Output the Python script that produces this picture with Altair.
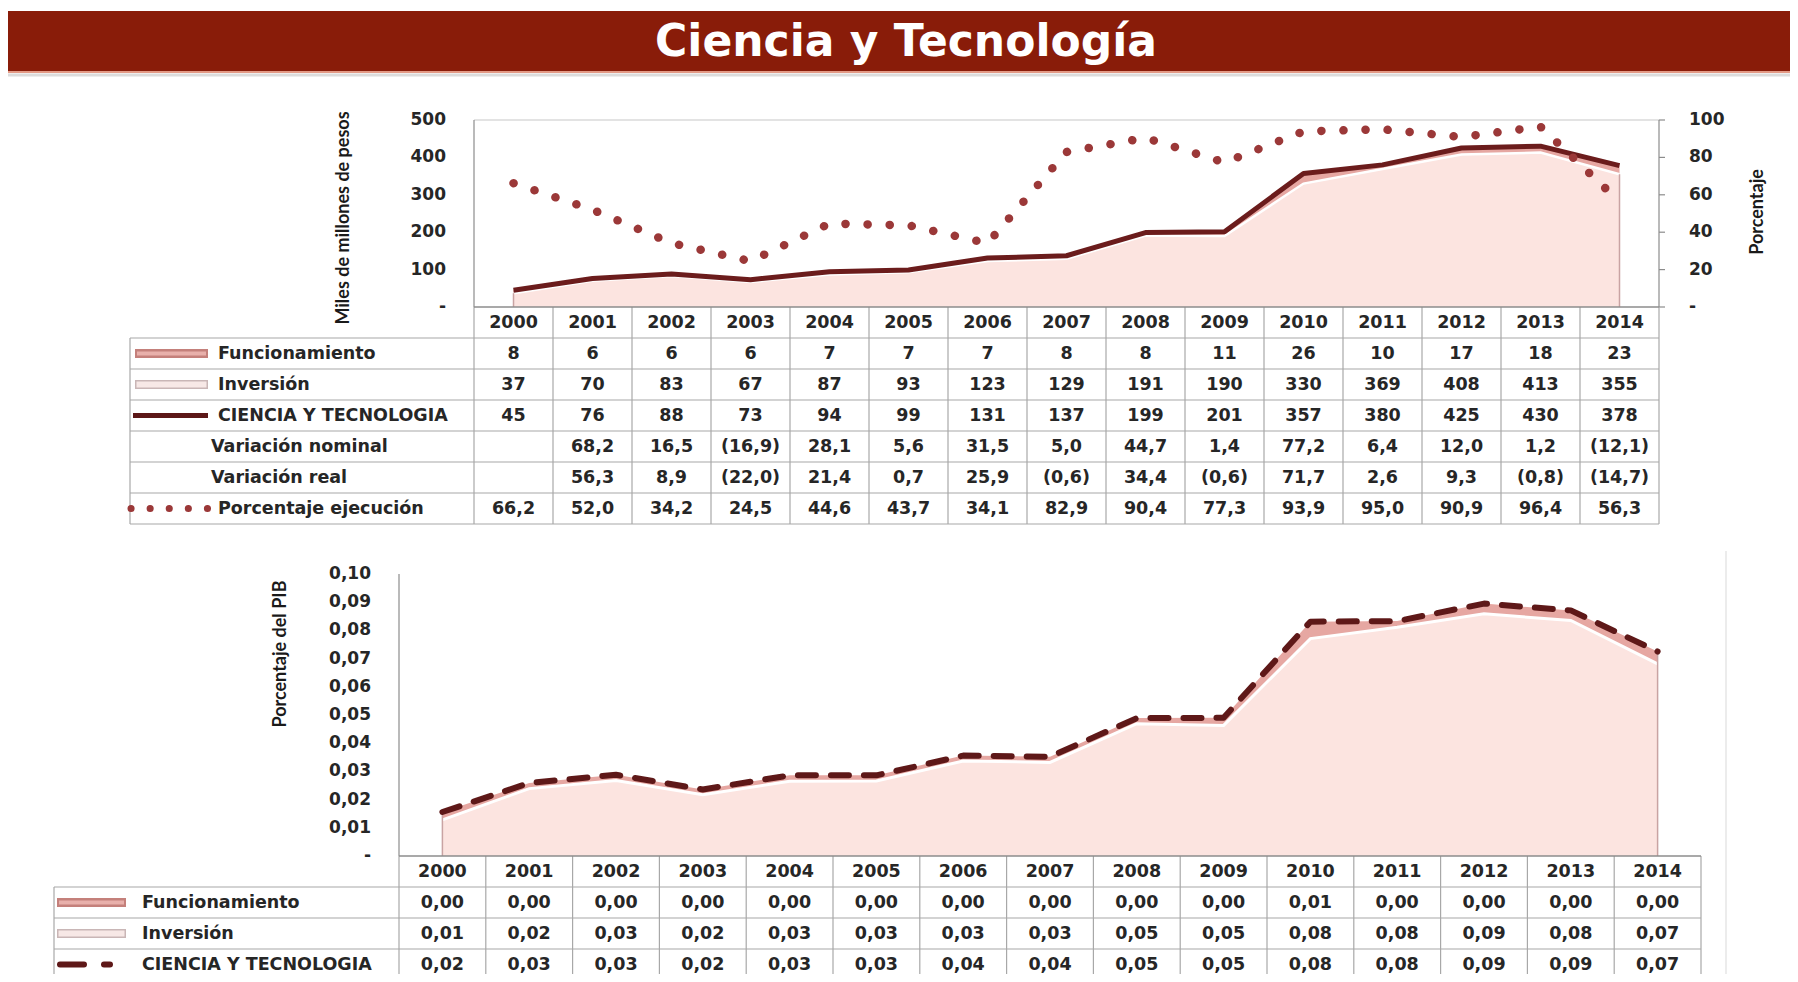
import altair as alt
import pandas as pd

# ---------------- data ----------------
years = [2000, 2001, 2002, 2003, 2004, 2005, 2006, 2007, 2008, 2009, 2010, 2011, 2012, 2013, 2014]

funcionamiento = [8, 6, 6, 6, 7, 7, 7, 8, 8, 11, 26, 10, 17, 18, 23]
inversion = [37, 70, 83, 67, 87, 93, 123, 129, 191, 190, 330, 369, 408, 413, 355]
ciencia_tecnologia = [45, 76, 88, 73, 94, 99, 131, 137, 199, 201, 357, 380, 425, 430, 378]
variacion_nominal = [None, 68.2, 16.5, -16.9, 28.1, 5.6, 31.5, 5.0, 44.7, 1.4, 77.2, 6.4, 12.0, 1.2, -12.1]
variacion_real = [None, 56.3, 8.9, -22.0, 21.4, 0.7, 25.9, -0.6, 34.4, -0.6, 71.7, 2.6, 9.3, -0.8, -14.7]
porcentaje_ejecucion = [66.2, 52.0, 34.2, 24.5, 44.6, 43.7, 34.1, 82.9, 90.4, 77.3, 93.9, 95.0, 90.9, 96.4, 56.3]

# porcentaje del PIB (curves)
pib_funcionamiento = [0.0028, 0.0020, 0.0020, 0.0019, 0.0021, 0.0020, 0.0019, 0.0020, 0.0020, 0.0027, 0.0060, 0.0022, 0.0036, 0.0036, 0.0044]
pib_inversion = [0.0128, 0.0239, 0.0268, 0.0217, 0.0265, 0.0266, 0.0337, 0.0332, 0.0469, 0.0463, 0.0771, 0.0811, 0.0859, 0.0835, 0.0681]
pib_total = [0.0156, 0.0259, 0.0288, 0.0236, 0.0286, 0.0286, 0.0356, 0.0352, 0.0489, 0.0490, 0.0831, 0.0833, 0.0895, 0.0871, 0.0725]

# porcentaje del PIB (table values as printed)
pib_func_tabla = ["0,00", "0,00", "0,00", "0,00", "0,00", "0,00", "0,00", "0,00", "0,00", "0,00", "0,01", "0,00", "0,00", "0,00", "0,00"]
pib_inv_tabla = ["0,01", "0,02", "0,03", "0,02", "0,03", "0,03", "0,03", "0,03", "0,05", "0,05", "0,08", "0,08", "0,09", "0,08", "0,07"]
pib_total_tabla = ["0,02", "0,03", "0,03", "0,02", "0,03", "0,03", "0,04", "0,04", "0,05", "0,05", "0,08", "0,08", "0,09", "0,09", "0,07"]

ticks_left = [0, 100, 200, 300, 400, 500]
ticks_left_lab = ["-", "100", "200", "300", "400", "500"]
ticks_right = [0, 20, 40, 60, 80, 100]
ticks_right_lab = ["-", "20", "40", "60", "80", "100"]
ticks_pib = [0, 0.01, 0.02, 0.03, 0.04, 0.05, 0.06, 0.07, 0.08, 0.09, 0.10]
ticks_pib_lab = ["-", "0,01", "0,02", "0,03", "0,04", "0,05", "0,06", "0,07", "0,08", "0,09", "0,10"]

titulo = "Ciencia y Tecnología"
filas_top = ["Funcionamiento", "Inversión", "CIENCIA Y TECNOLOGIA", "Variación nominal", "Variación real", "Porcentaje ejecución"]
filas_bot = ["Funcionamiento", "Inversión", "CIENCIA Y TECNOLOGIA"]

# ---------------- layout ----------------
OFF = 8
W, H = 1782, 966


def P(v):
    return v - OFF


FONT = "DejaVu Sans"
TFONT = "Lato"
TXT = "#262626"
GRID = "#A8A8A8"
AXIS = "#8C8C8C"
ROWH = 31
FS_CELL = 17.5
FS_LAB = 17.5
FS_TICK = 17

TX0, TX1 = P(474), P(1659)
TY_TOP, TY_ZERO = P(120), P(307)
TROWS = 7
TT_BOT = TY_ZERO + TROWS * ROWH
TLAB_X0 = P(130)

BX0, BX1 = P(399), P(1701)
BY_TOP, BY_ZERO = P(574), P(856)
BROWS = 4
BT_BOT = BY_ZERO + BROWS * ROWH
BLAB_X0 = P(54)


def sc(dom, rng):
    return alt.Scale(domain=dom, range=rng, nice=False, zero=False)


x_top = sc([1999.5, 2014.5], [TX0, TX1])
y_top = sc([0, 500], [TY_ZERO, TY_TOP])
y_top_r = sc([0, 100], [TY_ZERO, TY_TOP])
row_top = sc([0, TROWS], [TY_ZERO, TT_BOT])
x_bot = sc([1999.5, 2014.5], [BX0, BX1])
y_bot = sc([0, 0.10], [BY_ZERO, BY_TOP])
row_bot = sc([0, BROWS], [BY_ZERO, BT_BOT])


def X(f, s):
    return alt.X(f, type="quantitative", scale=s, axis=None)


def Y(f, s):
    return alt.Y(f, type="quantitative", scale=s, axis=None)


def fmt1(v):
    if v is None:
        return ""
    s = f"{abs(v):.1f}".replace(".", ",")
    return f"({s})" if v < 0 else s


one = pd.DataFrame({"t": [titulo]})
L = []

# ---------------- banner ----------------
L.append(alt.Chart(one).mark_rect(color="#891C09").encode(
    x=alt.value(0), x2=alt.value(W), y=alt.value(P(11)), y2=alt.value(P(71))))
L.append(alt.Chart(one).mark_rule(color="#E39A86", strokeWidth=2).encode(
    x=alt.value(0), x2=alt.value(W), y=alt.value(P(72))))
L.append(alt.Chart(one).mark_rule(color="#DCDCDC", strokeWidth=3).encode(
    x=alt.value(0), x2=alt.value(W), y=alt.value(P(75))))
L.append(alt.Chart(one).mark_text(font="DejaVu Sans", fontSize=44, fontWeight="bold", color="white",
                                  align="center", baseline="middle").encode(
    x=alt.value(P(906)), y=alt.value(P(43)), text="t:N"))

# ---------------- top chart ----------------
df_top = pd.DataFrame({"year": years, "func": funcionamiento, "inv": inversion,
                       "total": ciencia_tecnologia, "pct": porcentaje_ejecucion, "zero": 0})
xt = X("year", x_top)
L.append(alt.Chart(df_top).mark_area(color="#FCE4E0").encode(x=xt, y=Y("inv", y_top), y2=alt.Y2("zero")))
L.append(alt.Chart(df_top).mark_area(color="#E6A7A2").encode(x=xt, y=Y("total", y_top), y2=alt.Y2("inv")))
L.append(alt.Chart(df_top).mark_line(color="white", strokeWidth=2.5).encode(x=xt, y=Y("inv", y_top)))
L.append(alt.Chart(df_top[df_top["year"].isin([years[0], years[-1]])]).mark_rule(color="#C9A3A3", strokeWidth=1.5).encode(
    x=xt, y=Y("zero", y_top), y2=alt.Y2("inv")))

# axes frame
frame_top = pd.DataFrame({"x0": [1999.5], "x1": [2014.5], "y0": [0], "y1": [500]})
L.append(alt.Chart(frame_top).mark_rule(color="#C8C8C8", strokeWidth=1.2).encode(
    x=X("x0", x_top), x2=alt.X2("x1"), y=Y("y1", y_top)))
L.append(alt.Chart(frame_top).mark_rule(color=AXIS, strokeWidth=1.2).encode(
    x=X("x0", x_top), y=Y("y0", y_top), y2=alt.Y2("y1")))
L.append(alt.Chart(frame_top).mark_rule(color=AXIS, strokeWidth=1.2).encode(
    x=X("x1", x_top), y=Y("y0", y_top), y2=alt.Y2("y1")))

df_tl = pd.DataFrame({"v": ticks_left, "lab": ticks_left_lab})
df_tr = pd.DataFrame({"v": ticks_right, "lab": ticks_right_lab})
L.append(alt.Chart(df_tr).mark_rule(color=AXIS, strokeWidth=1.2).encode(
    x=alt.value(TX1), x2=alt.value(TX1 + 6), y=Y("v", y_top_r)))
L.append(alt.Chart(df_tl).mark_text(font=FONT, fontSize=FS_TICK, fontWeight="bold", color=TXT,
                                    align="right", baseline="middle").encode(
    x=alt.value(P(446)), y=Y("v", y_top), text="lab:N"))
L.append(alt.Chart(df_tr).mark_text(font=FONT, fontSize=FS_TICK, fontWeight="bold", color=TXT,
                                    align="left", baseline="middle").encode(
    x=alt.value(P(1689)), y=Y("v", y_top_r), text="lab:N"))
L.append(alt.Chart(pd.DataFrame({"t": ["Miles de millones de pesos"]})).mark_text(
    font=TFONT, fontSize=18, fontWeight="bold", color="#1A1A1A", angle=270,
    align="center", baseline="middle").encode(x=alt.value(P(344)), y=alt.value(P(218)), text="t:N"))
L.append(alt.Chart(pd.DataFrame({"t": ["Porcentaje"]})).mark_text(
    font=TFONT, fontSize=18, fontWeight="bold", color="#1A1A1A", angle=270,
    align="center", baseline="middle").encode(x=alt.value(P(1758)), y=alt.value(P(212)), text="t:N"))

# series lines
L.append(alt.Chart(df_top).mark_line(color="#6B1C1C", strokeWidth=5, strokeJoin="round").encode(
    x=xt, y=Y("total", y_top)))
L.append(alt.Chart(df_top).mark_line(color="#9B3838", strokeWidth=8.5, strokeDash=[0.1, 22],
                                     strokeCap="round").encode(x=xt, y=Y("pct", y_top_r)))

# ---------------- top table ----------------
df_vl = pd.DataFrame({"xv": [y - 0.5 for y in years] + [years[-1] + 0.5], "r0": 0, "r1": TROWS})
L.append(alt.Chart(df_vl).mark_rule(color=GRID, strokeWidth=1.2).encode(
    x=X("xv", x_top), y=Y("r0", row_top), y2=alt.Y2("r1")))
L.append(alt.Chart(pd.DataFrame({"r": list(range(1, TROWS + 1))})).mark_rule(color=GRID, strokeWidth=1.2).encode(
    x=alt.value(TLAB_X0), x2=alt.value(TX1), y=Y("r", row_top)))
L.append(alt.Chart(pd.DataFrame({"r0": [1], "r1": [TROWS]})).mark_rule(color=GRID, strokeWidth=1.2).encode(
    x=alt.value(TLAB_X0), y=Y("r0", row_top), y2=alt.Y2("r1")))
L.append(alt.Chart(frame_top).mark_rule(color=AXIS, strokeWidth=1.4).encode(
    x=X("x0", x_top), x2=alt.X2("x1"), y=Y("y0", y_top)))

cells = [{"year": y, "rc": 0.5, "txt": str(y)} for y in years]
rows_vals = [
    [str(v) for v in funcionamiento],
    [str(v) for v in inversion],
    [str(v) for v in ciencia_tecnologia],
    [fmt1(v) for v in variacion_nominal],
    [fmt1(v) for v in variacion_real],
    [fmt1(v) for v in porcentaje_ejecucion],
]
for i, vals in enumerate(rows_vals):
    for y, t in zip(years, vals):
        if t:
            cells.append({"year": y, "rc": i + 1.5, "txt": t})
L.append(alt.Chart(pd.DataFrame(cells)).mark_text(font=FONT, fontSize=FS_CELL, fontWeight="bold", color=TXT,
                                                  align="center", baseline="middle").encode(
    x=X("year", x_top), y=Y("rc", row_top), text="txt:N"))

lab_top = pd.DataFrame({"rc": [1.5, 2.5, 3.5, 6.5],
                        "txt": [filas_top[0], filas_top[1], filas_top[2], filas_top[5]]})
lab_top_ind = pd.DataFrame({"rc": [4.5, 5.5], "txt": [filas_top[3], filas_top[4]]})
L.append(alt.Chart(lab_top).mark_text(font=FONT, fontSize=FS_LAB, fontWeight="bold", color=TXT,
                                      align="left", baseline="middle").encode(
    x=alt.value(P(218)), y=Y("rc", row_top), text="txt:N"))
L.append(alt.Chart(lab_top_ind).mark_text(font=FONT, fontSize=FS_LAB, fontWeight="bold", color=TXT,
                                          align="left", baseline="middle").encode(
    x=alt.value(P(211)), y=Y("rc", row_top), text="txt:N"))

# legend keys (top)
k0, k1 = P(135), P(208)
L.append(alt.Chart(pd.DataFrame({"rc": [1.5]})).mark_rule(color="#C4807B", strokeWidth=9).encode(
    x=alt.value(k0), x2=alt.value(k1), y=Y("rc", row_top)))
L.append(alt.Chart(pd.DataFrame({"rc": [1.5]})).mark_rule(color="#E8B0AB", strokeWidth=4).encode(
    x=alt.value(k0 + 2), x2=alt.value(k1 - 2), y=Y("rc", row_top)))
L.append(alt.Chart(pd.DataFrame({"rc": [2.5]})).mark_rule(color="#C9B6B6", strokeWidth=9).encode(
    x=alt.value(k0), x2=alt.value(k1), y=Y("rc", row_top)))
L.append(alt.Chart(pd.DataFrame({"rc": [2.5]})).mark_rule(color="#F7E8E6", strokeWidth=6).encode(
    x=alt.value(k0 + 1.5), x2=alt.value(k1 - 1.5), y=Y("rc", row_top)))
L.append(alt.Chart(pd.DataFrame({"rc": [3.5]})).mark_rule(color="#5C1717", strokeWidth=5).encode(
    x=alt.value(k0 - 2), x2=alt.value(k1), y=Y("rc", row_top)))
L.append(alt.Chart(pd.DataFrame({"rc": [6.5]})).mark_rule(color="#9B3838", strokeWidth=7, strokeDash=[0.1, 19],
                                                          strokeCap="round").encode(
    x=alt.value(k0 - 4), x2=alt.value(k1), y=Y("rc", row_top)))

# ---------------- bottom chart ----------------
df_bot = pd.DataFrame({"year": years, "func": pib_funcionamiento, "inv": pib_inversion,
                       "total": pib_total, "zero": 0.0})
xb = X("year", x_bot)
L.append(alt.Chart(df_bot).mark_area(color="#FCE4E0").encode(x=xb, y=Y("inv", y_bot), y2=alt.Y2("zero")))
L.append(alt.Chart(df_bot).mark_area(color="#E6A7A2").encode(x=xb, y=Y("total", y_bot), y2=alt.Y2("inv")))
L.append(alt.Chart(df_bot).mark_line(color="white", strokeWidth=3).encode(x=xb, y=Y("inv", y_bot)))
L.append(alt.Chart(df_bot[df_bot["year"].isin([years[0], years[-1]])]).mark_rule(color="#C9A3A3", strokeWidth=1.5).encode(
    x=xb, y=Y("zero", y_bot), y2=alt.Y2("total")))

frame_bot = pd.DataFrame({"x0": [1999.5], "x1": [2014.5], "y0": [0.0], "y1": [0.10]})
L.append(alt.Chart(frame_bot).mark_rule(color=AXIS, strokeWidth=1.2).encode(
    x=X("x0", x_bot), y=Y("y0", y_bot), y2=alt.Y2("y1")))
df_tb = pd.DataFrame({"v": ticks_pib, "lab": ticks_pib_lab})
L.append(alt.Chart(df_tb).mark_text(font=FONT, fontSize=FS_TICK, fontWeight="bold", color=TXT,
                                    align="right", baseline="middle").encode(
    x=alt.value(P(371)), y=Y("v", y_bot), text="lab:N"))
L.append(alt.Chart(pd.DataFrame({"t": ["Porcentaje del PIB"]})).mark_text(
    font=TFONT, fontSize=18, fontWeight="bold", color="#1A1A1A", angle=270,
    align="center", baseline="middle").encode(x=alt.value(P(281)), y=alt.value(P(654)), text="t:N"))
L.append(alt.Chart(one).mark_rule(color="#E6E6E6", strokeWidth=1.5).encode(
    x=alt.value(P(1726)), y=alt.value(P(551)), y2=alt.value(H)))

L.append(alt.Chart(df_bot).mark_line(color="#5E1818", strokeWidth=6, strokeDash=[18, 15],
                                     strokeCap="round", strokeJoin="round").encode(x=xb, y=Y("total", y_bot)))

# ---------------- bottom table ----------------
df_vlb = pd.DataFrame({"xv": [y - 0.5 for y in years] + [years[-1] + 0.5], "r0": 0, "r1": BROWS})
L.append(alt.Chart(df_vlb).mark_rule(color=GRID, strokeWidth=1.2).encode(
    x=X("xv", x_bot), y=Y("r0", row_bot), y2=alt.Y2("r1")))
L.append(alt.Chart(pd.DataFrame({"r": list(range(1, BROWS + 1))})).mark_rule(color=GRID, strokeWidth=1.2).encode(
    x=alt.value(BLAB_X0), x2=alt.value(BX1), y=Y("r", row_bot)))
L.append(alt.Chart(pd.DataFrame({"r0": [1], "r1": [BROWS]})).mark_rule(color=GRID, strokeWidth=1.2).encode(
    x=alt.value(BLAB_X0), y=Y("r0", row_bot), y2=alt.Y2("r1")))
L.append(alt.Chart(frame_bot).mark_rule(color=AXIS, strokeWidth=1.4).encode(
    x=X("x0", x_bot), x2=alt.X2("x1"), y=Y("y0", y_bot)))

cells_b = [{"year": y, "rc": 0.5, "txt": str(y)} for y in years]
for i, vals in enumerate([pib_func_tabla, pib_inv_tabla, pib_total_tabla]):
    for y, t in zip(years, vals):
        cells_b.append({"year": y, "rc": i + 1.5, "txt": t})
L.append(alt.Chart(pd.DataFrame(cells_b)).mark_text(font=FONT, fontSize=FS_CELL, fontWeight="bold", color=TXT,
                                                    align="center", baseline="middle").encode(
    x=X("year", x_bot), y=Y("rc", row_bot), text="txt:N"))
L.append(alt.Chart(pd.DataFrame({"rc": [1.5, 2.5, 3.5], "txt": filas_bot})).mark_text(
    font=FONT, fontSize=FS_LAB, fontWeight="bold", color=TXT, align="left", baseline="middle").encode(
    x=alt.value(P(142)), y=Y("rc", row_bot), text="txt:N"))

b0, b1 = P(57), P(126)
L.append(alt.Chart(pd.DataFrame({"rc": [1.5]})).mark_rule(color="#C4807B", strokeWidth=9).encode(
    x=alt.value(b0), x2=alt.value(b1), y=Y("rc", row_bot)))
L.append(alt.Chart(pd.DataFrame({"rc": [1.5]})).mark_rule(color="#E8B0AB", strokeWidth=4).encode(
    x=alt.value(b0 + 2), x2=alt.value(b1 - 2), y=Y("rc", row_bot)))
L.append(alt.Chart(pd.DataFrame({"rc": [2.5]})).mark_rule(color="#C9B6B6", strokeWidth=9).encode(
    x=alt.value(b0), x2=alt.value(b1), y=Y("rc", row_bot)))
L.append(alt.Chart(pd.DataFrame({"rc": [2.5]})).mark_rule(color="#F7E8E6", strokeWidth=6).encode(
    x=alt.value(b0 + 1.5), x2=alt.value(b1 - 1.5), y=Y("rc", row_bot)))
L.append(alt.Chart(pd.DataFrame({"rc": [3.5]})).mark_rule(color="#5E1818", strokeWidth=6, strokeDash=[24, 20, 6, 30],
                                                          strokeCap="round").encode(
    x=alt.value(b0 + 3), x2=alt.value(b1), y=Y("rc", row_bot)))

chart = alt.layer(*L).resolve_scale(x="independent", y="independent").properties(
    width=W, height=H, padding=0, autosize=alt.AutoSizeParams(type="none")
).configure_view(strokeOpacity=0)

chart.save("out.html", embed_options={"renderer": "svg", "actions": False})
